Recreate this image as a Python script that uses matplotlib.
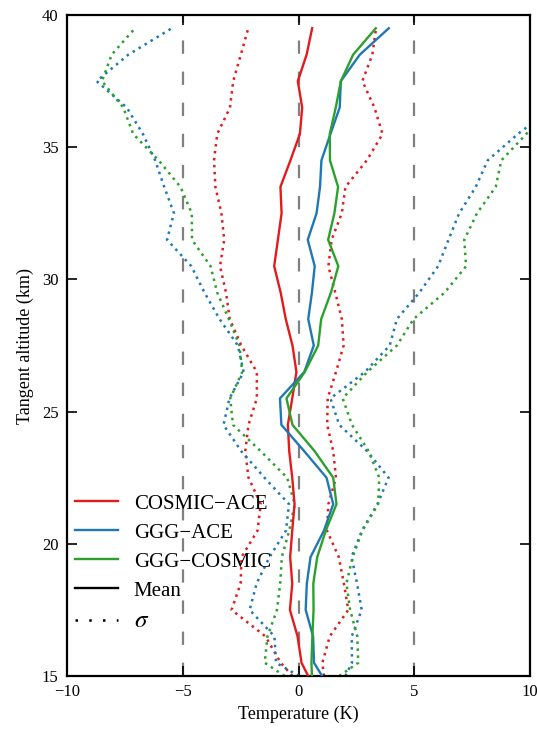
import matplotlib
matplotlib.use("Agg")
import matplotlib.pyplot as plt
import numpy as np
from matplotlib.lines import Line2D

plt.rcParams['font.family'] = ['Liberation Serif', 'DejaVu Serif']
plt.rcParams['mathtext.fontset'] = 'stix'
plt.rcParams['axes.unicode_minus'] = True

altitude = [15.0, 15.5, 16.5, 17.5, 18.5, 19.5, 20.5, 21.5, 22.5, 23.5, 24.5, 25.5, 26.5,
            27.5, 28.5, 29.5, 30.5, 31.5, 32.5, 33.5, 34.5, 35.5, 36.5, 37.5, 38.5, 39.5]

cosmic_ace_mean = [0.42, 0.13, -0.04, -0.37, -0.27, -0.36, -0.27, -0.17, -0.27, -0.40, -0.46, -0.27, -0.09,
                   -0.26, -0.55, -0.77, -1.05, -0.89, -0.73, -0.78, -0.35, 0.06, 0.16, -0.03, 0.35, 0.59]
cosmic_ace_sigma = [0.68, 0.90, 1.39, 2.52, 2.23, 2.10, 1.50, 1.46, 1.89, 1.90, 1.70, 1.53, 1.71,
                    2.21, 2.42, 2.36, 2.34, 2.32, 2.60, 2.81, 3.30, 3.57, 3.12, 2.79, 2.84, 2.76]

ggg_ace_mean = [1.02, 0.67, 0.63, 0.31, 0.36, 0.52, 1.10, 1.50, 1.21, 0.25, -0.74, -0.80, 0.25,
                0.66, 0.42, 0.58, 0.70, 0.40, 0.78, 0.93, 0.99, 1.38, 1.78, 1.83, 2.65, 3.90]
ggg_ace_sigma = [1.00, 1.64, 1.67, 2.42, 2.17, 1.77, 1.64, 1.91, 2.68, 2.72, 2.50, 2.18, 2.62,
                 3.28, 3.83, 4.64, 5.33, 6.08, 6.16, 6.73, 7.18, 8.10, 9.20, 10.55, 10.00, 9.37]

ggg_cosmic_mean = [0.58, 0.56, 0.60, 0.65, 0.64, 0.81, 1.18, 1.64, 1.50, 0.70, -0.26, -0.52, 0.27,
                   0.85, 0.98, 1.40, 1.72, 1.28, 1.55, 1.71, 1.36, 1.35, 1.61, 1.83, 2.36, 3.34]
ggg_cosmic_sigma = [1.18, 2.02, 1.94, 1.58, 1.43, 1.53, 1.58, 1.80, 1.99, 2.33, 2.57, 2.43, 2.70,
                    3.40, 3.99, 4.91, 5.52, 5.88, 6.16, 6.81, 7.40, 8.49, 9.18, 10.32, 10.43, 10.40]

series_names = ['COSMIC\u2212ACE', 'GGG\u2212ACE', 'GGG\u2212COSMIC']
series_colors = ['#e41a1c', '#1f78b4', '#2ca02c']
means = [cosmic_ace_mean, ggg_ace_mean, ggg_cosmic_mean]
sigmas = [cosmic_ace_sigma, ggg_ace_sigma, ggg_cosmic_sigma]
ref_lines = [-5, 0, 5]
xticks = [-10, -5, 0, 5, 10]
yticks = [15, 20, 25, 30, 35, 40]

DOT = (0, (1, 1.8))

fig = plt.figure(figsize=(5.37, 7.30), dpi=100)
ax = fig.add_axes([67/537, 1-676/730, (530-67)/537, (676-15)/730])

for xv in ref_lines:
    ax.axvline(xv, color='#808080', lw=1.6, linestyle=(0, (6, 8)), zorder=1)

alt = np.array(altitude)
for name, col, m, s in zip(series_names, series_colors, means, sigmas):
    m = np.array(m); s = np.array(s)
    ax.plot(m, alt, color=col, lw=1.7, zorder=3)
    ax.plot(m - s, alt, color=col, lw=1.8, linestyle=DOT, zorder=2)
    ax.plot(m + s, alt, color=col, lw=1.8, linestyle=DOT, zorder=2)

ax.set_xlim(-10, 10)
ax.set_ylim(15, 40)
ax.set_xticks(xticks)
ax.set_yticks(yticks)
ax.tick_params(direction='in', length=7, width=1.2, top=True, right=True, labelsize=12, pad=6)
for sp in ax.spines.values():
    sp.set_linewidth(1.6)
ax.set_xlabel('Temperature (K)', fontsize=13, labelpad=4)
ax.set_ylabel('Tangent altitude (km)', fontsize=13, labelpad=6)

handles = [Line2D([], [], color=c, lw=1.7) for c in series_colors]
handles += [Line2D([], [], color='black', lw=1.7),
            Line2D([], [], color='black', lw=1.8, linestyle=(0, (1, 4.5)))]
labels = series_names + ['Mean', r'$\sigma$']
leg = ax.legend(handles, labels, loc='lower left', frameon=False, fontsize=15,
                handlelength=2.05, handletextpad=0.75, labelspacing=0.45,
                borderpad=0.2, borderaxespad=0.2,
                bbox_to_anchor=(0.0, 0.054))
leg.get_texts()[-1].set_fontsize(18)

fig.savefig('out.png', dpi=100)
